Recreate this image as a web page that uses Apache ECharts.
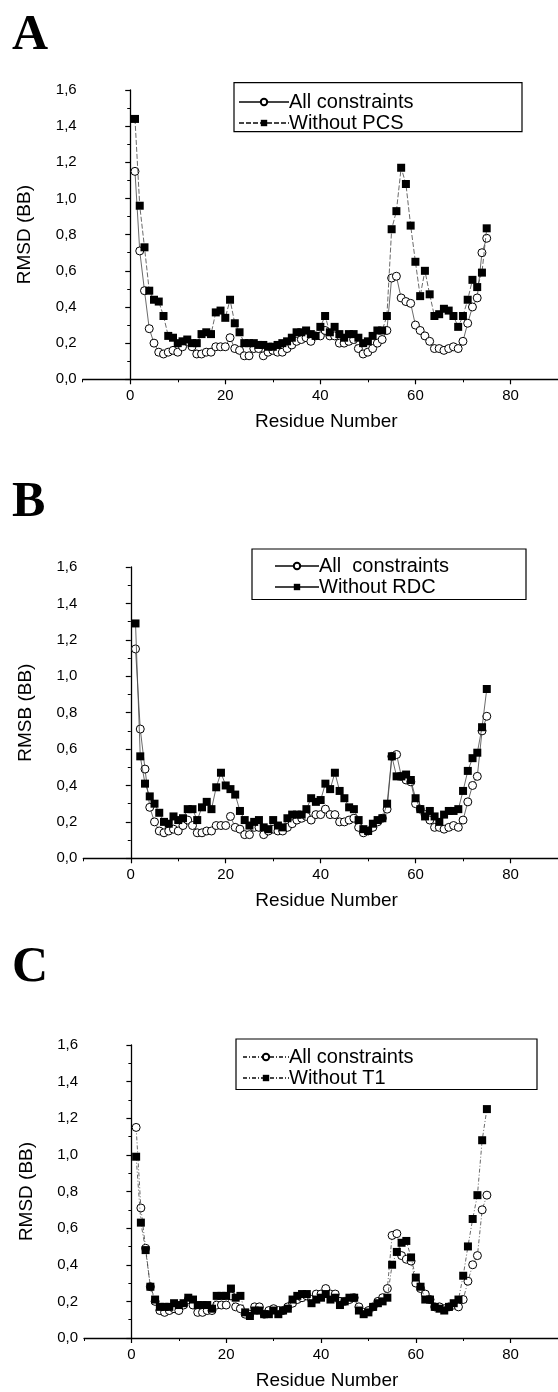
<!DOCTYPE html>
<html><head><meta charset="utf-8">
<script src="https://cdn.jsdelivr.net/npm/echarts@6/dist/echarts.min.js"></script>
<style>html,body{margin:0;padding:0;background:#fff}#c{width:558px;height:1392px}</style>
</head><body><div id="c"></div>
<script>
const residues = [];
for (let r = 1; r <= 75; r++) residues.push(r);

const allConstraints = [1.15,0.71,0.49,0.28,0.20,0.15,0.14,0.15,0.16,0.15,0.18,0.21,0.18,0.14,0.14,0.15,0.15,0.18,0.18,0.18,
  0.23,0.17,0.16,0.13,0.13,0.17,0.17,0.13,0.15,0.16,0.15,0.15,0.17,0.19,0.21,0.22,0.23,0.21,0.24,0.24,
  0.27,0.24,0.24,0.20,0.20,0.21,0.22,0.17,0.14,0.15,0.17,0.20,0.22,0.27,0.56,0.57,0.45,0.43,0.42,0.30,
  0.27,0.24,0.21,0.17,0.17,0.16,0.17,0.18,0.17,0.21,0.31,0.40,0.45,0.70,0.78];
const withoutPCS = [1.44,0.96,0.73,0.49,0.44,0.43,0.35,0.24,0.23,0.20,0.21,0.22,0.20,0.20,0.25,0.26,0.25,0.37,0.38,0.34,
  0.44,0.31,0.26,0.20,0.20,0.20,0.19,0.19,0.18,0.18,0.19,0.20,0.21,0.23,0.26,0.26,0.27,0.25,0.24,0.29,
  0.35,0.26,0.29,0.25,0.23,0.25,0.25,0.23,0.20,0.21,0.24,0.27,0.27,0.35,0.83,0.93,1.17,1.08,0.85,0.65,
  0.46,0.60,0.47,0.35,0.36,0.39,0.38,0.35,0.29,0.35,0.44,0.55,0.51,0.59,0.835];
const withoutRDC = [1.29,0.56,0.41,0.34,0.30,0.25,0.20,0.19,0.23,0.21,0.22,0.27,0.27,0.21,0.28,0.31,0.27,0.39,0.47,0.40,
  0.38,0.35,0.26,0.21,0.18,0.20,0.21,0.17,0.16,0.21,0.18,0.17,0.22,0.24,0.24,0.24,0.27,0.33,0.31,0.32,
  0.41,0.38,0.47,0.37,0.33,0.28,0.27,0.21,0.16,0.15,0.19,0.21,0.22,0.30,0.56,0.45,0.45,0.46,0.43,0.33,
  0.27,0.23,0.26,0.23,0.20,0.24,0.26,0.26,0.27,0.37,0.48,0.55,0.58,0.72,0.93];
const withoutT1 = [0.99,0.63,0.48,0.28,0.21,0.17,0.17,0.17,0.19,0.18,0.19,0.22,0.21,0.18,0.18,0.18,0.16,0.23,0.23,0.23,
  0.27,0.22,0.23,0.14,0.12,0.15,0.15,0.13,0.13,0.15,0.13,0.15,0.16,0.21,0.23,0.24,0.24,0.19,0.21,0.22,
  0.24,0.21,0.22,0.18,0.20,0.22,0.22,0.15,0.13,0.14,0.17,0.19,0.20,0.22,0.40,0.47,0.52,0.53,0.44,0.33,
  0.28,0.21,0.21,0.17,0.16,0.15,0.17,0.19,0.21,0.34,0.50,0.65,0.78,1.08,1.25];

const xTickValues = [0, 20, 40, 60, 80];
const panelLetters = ['A', 'B', 'C'];
const yAxisNames = ['RMSD (BB)', 'RMSB (BB)', 'RMSD (BB)'];
const xAxisName = 'Residue Number';
const refLabels = ['All constraints', 'All  constraints', 'All constraints'];
const cmpLabels = ['Without PCS', 'Without RDC', 'Without T1'];
const cmpData = [withoutPCS, withoutRDC, withoutT1];

const FONT = 'Liberation Sans, Arial, sans-serif';
const grids = [
  {left: 82.7, width: 475.5, top: 90, height: 289.3},
  {left: 83.3, width: 477, top: 567, height: 291.3},
  {left: 84, width: 477, top: 1045, height: 293}
];
const legendPos = [
  {left: 238, top: 92, iw: 50, box: [234, 82.7, 288, 49]},
  {left: 274, top: 556, iw: 44, box: [252, 549, 274, 50.5]},
  {left: 242, top: 1047, iw: 46, box: [236, 1039, 301, 50.5]}
];
const dashStyles = [[null, [5, 2]], [null, null], [[4, 2, 1, 2], [4, 2, 1, 2]]];

const xAxes = [], yAxes = [], series = [], legends = [], graphics = [];
grids.forEach((g, i) => {
  xAxes.push({
    gridIndex: i, type: 'value', min: -10, max: 90, position: 'bottom',
    axisLine: {onZero: false, lineStyle: {color: '#000', width: 1.3}},
    axisTick: {customValues: xTickValues, length: 5, lineStyle: {color: '#000', width: 1.2}},
    axisLabel: {customValues: xTickValues, fontSize: 15, color: '#000', margin: 9, fontFamily: FONT},
    splitLine: {show: false},
    name: xAxisName, nameLocation: 'middle', nameGap: 33,
    nameTextStyle: {fontSize: 19, color: '#000', fontFamily: FONT, padding: [0, 0, 0, 12]}
  });
  xAxes.push({
    gridIndex: i, type: 'value', min: -10, max: 90, interval: 10, position: 'bottom',
    axisLine: {show: false, onZero: false},
    axisTick: {show: true, length: 3, lineStyle: {color: '#000', width: 1}},
    axisLabel: {show: false}, splitLine: {show: false}
  });
  yAxes.push({
    gridIndex: i, type: 'value', min: 0, max: 1.6, interval: 0.2,
    axisLine: {show: true, lineStyle: {color: '#000', width: 1.3}},
    axisTick: {show: true, length: 5, lineStyle: {color: '#000', width: 1.2}},
    minorTick: {show: true, splitNumber: 2, length: 3, lineStyle: {color: '#000', width: 1}},
    axisLabel: {fontSize: 15, color: '#000', margin: 6, fontFamily: FONT,
      formatter: v => v.toFixed(1).replace('.', ',')},
    splitLine: {show: false},
    name: yAxisNames[i], nameLocation: 'middle', nameGap: 48, nameRotate: 90,
    nameTextStyle: {fontSize: 19, color: '#000', fontFamily: FONT}
  });
  const refName = refLabels[i] + ' #' + i;
  const cmpName = cmpLabels[i] + ' #' + i;
  series.push({
    name: refName, type: 'line', xAxisIndex: 2 * i + 1, yAxisIndex: i,
    data: residues.map((r, j) => [r, allConstraints[j]]),
    symbol: 'circle', symbolSize: 8,
    itemStyle: {color: '#fff', borderColor: '#000', borderWidth: 1},
    lineStyle: {color: '#444', width: 0.8, type: dashStyles[i][0] || 'solid'},
    animation: false, z: 2
  });
  series.push({
    name: cmpName, type: 'line', xAxisIndex: 2 * i + 1, yAxisIndex: i,
    data: residues.map((r, j) => [r, cmpData[i][j]]),
    symbol: 'rect', symbolSize: 8,
    itemStyle: {color: '#000', borderColor: '#000', borderWidth: 0},
    lineStyle: {color: '#444', width: 0.8, type: dashStyles[i][1] || 'solid'},
    animation: false, z: 3
  });
  const lp = legendPos[i];
  legends.push({
    data: [refName, cmpName], left: lp.left, top: lp.top, orient: 'vertical',
    padding: 0, itemWidth: lp.iw, itemHeight: 8, itemGap: 1, selectedMode: false,
    formatter: n => n.replace(/ #\d$/, ''),
    textStyle: {fontSize: 20, color: '#000', fontFamily: FONT, padding: [0, 0, 0, -5]}
  });
  graphics.push({
    type: 'rect', shape: {x: lp.box[0], y: lp.box[1], width: lp.box[2], height: lp.box[3]},
    style: {fill: 'none', stroke: '#000', lineWidth: 1.2}, silent: true
  });
});
const letterY = [36, 503, 968];
letterY.forEach((y, i) => {
  graphics.push({
    type: 'text', x: 12, y: y,
    style: {text: panelLetters[i], fontSize: 50, fontWeight: 'bold', fontFamily: 'Liberation Serif, Times New Roman, serif',
      fill: '#000', verticalAlign: 'middle', align: 'left'}
  });
});

const chart = echarts.init(document.getElementById('c'), null, {renderer: 'canvas'});
chart.setOption({
  animation: false,
  backgroundColor: '#fff',
  grid: grids.map(g => Object.assign({containLabel: false}, g)),
  xAxis: xAxes, yAxis: yAxes, series: series, legend: legends, graphic: graphics
});
</script></body></html>
